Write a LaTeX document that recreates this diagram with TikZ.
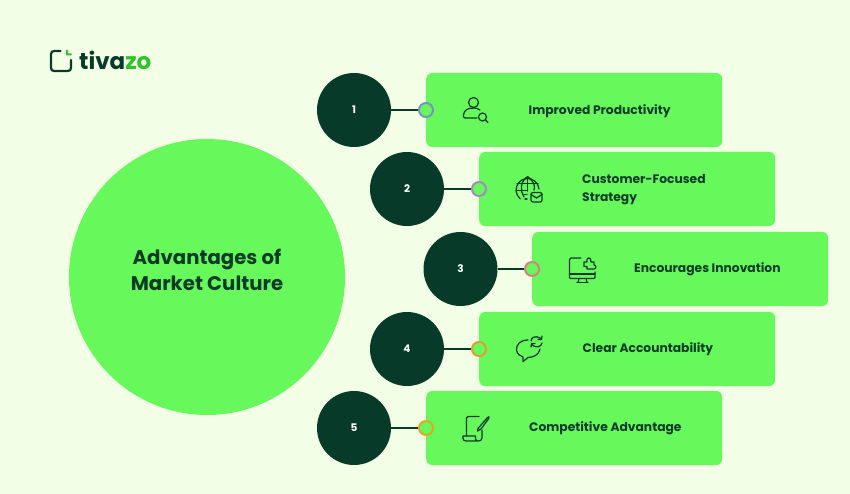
\documentclass[tikz,border=0pt]{standalone}
\usepackage{fontspec}
\setmainfont{Poppins}
\usetikzlibrary{calc}
\definecolor{bgc}{HTML}{F2FFE6}
\definecolor{lime}{HTML}{67F95C}
\definecolor{deep}{HTML}{083A2A}
\definecolor{logog}{HTML}{2FC22A}
\definecolor{r1}{HTML}{7A93C4}
\definecolor{r2}{HTML}{A886C4}
\definecolor{r3}{HTML}{D98080}
\definecolor{r4}{HTML}{E09A3C}
\definecolor{r5}{HTML}{E0A81E}
\tikzset{
  numdisc/.style={circle,fill=deep,minimum size=74pt,inner sep=0,text=white,font=\bfseries\fontsize{10.5}{12}\selectfont},
  card/.style={rectangle,rounded corners=6pt,fill=lime,minimum width=296pt,minimum height=74pt,inner sep=0},
  lab/.style={anchor=west,text=deep,font=\bfseries\fontsize{12.3}{18}\selectfont,align=left,inner sep=0},
  ringn/.style={circle,draw=#1,line width=2pt,fill=lime,minimum size=14pt,inner sep=0},
  link/.style={draw=deep,line width=1.6pt},
  ico/.style={draw=deep,line width=1.25pt,fill=none,line cap=round,line join=round}
}
\begin{document}
\begin{tikzpicture}[x=1pt,y=-1pt]
\useasboundingbox (0,0) rectangle (850,494);
\fill[bgc] (0,0) rectangle (850,494);
% soft shadow
\foreach \r in {139,141,...,175}{
  \fill[deep,opacity=.0018] (205,284) circle (\r);
}
\node[circle,fill=lime,minimum size=276pt,inner sep=0] (main) at (207,277) {};
\node[inner sep=0,align=center,text=deep,font=\bfseries\fontsize{19.7}{26}\selectfont] (title) at (207,269.5) {Advantages of\\Market Culture};
% logo
\draw[deep,line width=2.2pt,line cap=round,rounded corners=3pt] (60.5,51) -- (51,51) -- (51,71) -- (71,71) -- (71,60);
\fill[logog] (66,50) -- (68,50) -- (68,53.5) -- (71.5,53.5) -- (71.5,55.5) -- (66,55.5) -- cycle;
\node[anchor=base west,inner sep=0,font=\bfseries\fontsize{23}{26}\selectfont] (logo) at (79,69.5)
  {\textcolor{deep}{tiva}\textcolor{logog}{zo}};
% rows
\newcommand{\rowitem}[6]{% id, discx, y, cardleft, num, colour
  \node[numdisc] (d#1) at (#2,#3) {\raisebox{-.7pt}{#5}};
  \node[card,anchor=west] (c#1) at (#4,#3) {};
  \node[ringn=#6] (k#1) at (#4,#3) {};
  \draw[link] (d#1) -- (k#1);
}
\rowitem{1}{354}{110}{426}{1}{r1}
\rowitem{2}{407}{189}{479}{2}{r2}
\rowitem{3}{460.5}{269}{532}{3}{r3}
\rowitem{4}{407}{349}{479}{4}{r4}
\rowitem{5}{354}{428}{426}{5}{r5}
\node[lab] (l1) at (528.5,111) {Improved Productivity};
\node[lab] (l2) at (582,190) {Customer-Focused\\Strategy};
\node[lab] (l3) at (634,269) {Encourages Innovation};
\node[lab] (l4) at (582.5,349) {Clear Accountability};
\node[lab] (l5) at (529,428) {Competitive Advantage};
% icon 1: user + magnifier
\begin{scope}[shift={(463,97)}]
\draw[ico] (10.5,5.5) circle (5);
\draw[ico] (14,21) -- (2,21) -- (0.5,20) -- (0.5,18) .. controls (1,13) and (5,11) .. (10.5,11) .. controls (13,11) and (15,11.5) .. (17,13);
\draw[ico] (19.5,20) circle (4);
\draw[ico] (22.5,23) -- (25,25.5);
\end{scope}
% icon 2: globe + mail
\begin{scope}[shift={(516,176)}]
\draw[ico] (23,13) arc (-5:-230:11.5);
\draw[ico] (11.5,0.5) .. controls (4,6) and (4,15) .. (8,21);
\draw[ico] (11.5,0.5) .. controls (19,6) and (19,11) .. (18,14);
\draw[ico] (11.5,0.5) -- (11.5,15);
\draw[ico] (1,7.5) -- (22,7.5);
\draw[ico] (0.5,14.5) -- (11,14.5);
\draw[ico] (8,18.5) -- (11,18.5);
\draw[ico] (9,23) -- (11,23);
\draw[ico,rounded corners=1.5pt] (15,16.5) rectangle (26,26);
\draw[ico] (15,18.5) -- (20.5,22) -- (26,18.5);
\end{scope}
% icon 3: monitor + puzzle
\begin{scope}[shift={(569,257)}]
\draw[ico] (12,1) -- (2,1) -- (0.5,2.5) -- (0.5,20.5) -- (1.5,21.5) -- (25,21.5) -- (26,20.5) -- (26,15);
\draw[ico] (0.5,17) -- (26,17);
\draw[ico] (10,21.5) -- (9,25.5);
\draw[ico] (17,21.5) -- (18,25.5);
\draw[ico] (8,25.5) -- (19,25.5);
\draw[ico] (15,5) -- (18,5) .. controls (16.5,0) and (22.5,-1) .. (22,5) -- (25,5) -- (25,8) .. controls (27.5,8) and (27.5,12) .. (25,12) -- (18,12) -- (18,9.5) -- (15,9.5) -- cycle;
\end{scope}
% icon 4: speech bubble + refresh
\begin{scope}[shift={(516,336)}]
\draw[ico] (12,4) .. controls (4,4) and (0,9) .. (0.5,14) .. controls (1,18) and (4,20) .. (7,21) -- (7,25.5) -- (12,21.5) .. controls (17,21.5) and (23,19) .. (24,13);
\draw[ico] (15,5) .. controls (15,1) and (20,-0.5) .. (24,2) -- (25.5,3);
\draw[ico] (26,0) -- (25.5,3.5) -- (22,3.5);
\draw[ico] (26,7) .. controls (25.5,11) and (20,12) .. (17,9.5) -- (15.5,8);
\draw[ico] (15,11) -- (15.5,7.5) -- (19,7.5);
\end{scope}
% icon 5: scroll + pencil
\begin{scope}[shift={(463,416)}]
\draw[ico] (16,0.5) -- (5,0.5) -- (3.5,2) -- (3.5,20);
\draw[ico] (19,14) -- (19,22) .. controls (19,24.5) and (17,25) .. (15,25) -- (3,25) .. controls (0.5,25) and (0,23.5) .. (0,22) -- (0,20) -- (12.5,20) -- (12.5,23) .. controls (12.5,24.5) and (14,25) .. (15,25);
\draw[ico] (15,12.5) -- (24,2) .. controls (25,0.5) and (27,0) .. (25.5,3) -- (18,13) -- (14.5,15) -- cycle;
\end{scope}
\end{tikzpicture}
\end{document}
